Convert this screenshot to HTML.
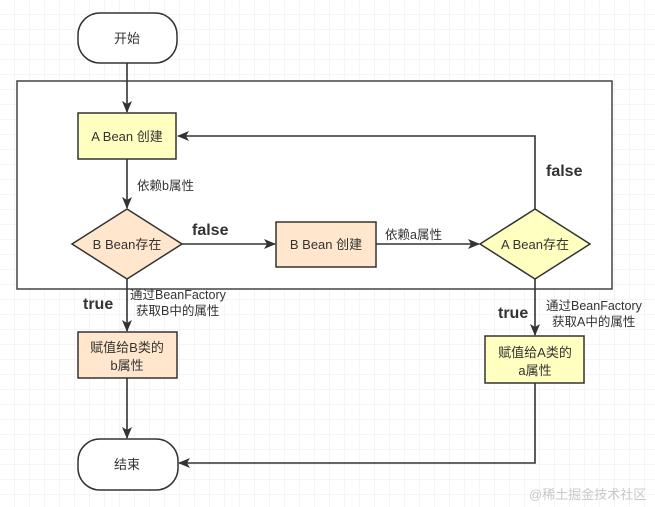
<!DOCTYPE html>
<html><head><meta charset="utf-8"><style>
html,body{margin:0;padding:0;background:#fff}
svg{display:block}
text{font-family:"Liberation Sans","Noto Sans CJK SC",sans-serif;fill:#333}
</style></head><body>
<svg width="655" height="507" viewBox="0 0 655 507" xmlns="http://www.w3.org/2000/svg">
<defs>
<pattern id="g" width="15" height="15" patternUnits="userSpaceOnUse">
<path d="M15 0V15M0 15H15" stroke="#ebebeb" stroke-width="1" fill="none"/>
</pattern>
<marker id="a" markerWidth="12" markerHeight="12" refX="11" refY="6" orient="auto" markerUnits="userSpaceOnUse">
<path d="M0,1 L12,6 L0,11 L3,6 Z" fill="#333"/>
</marker>
</defs>
<rect width="655" height="507" fill="url(#g)"/>
<rect x="17" y="81" width="595" height="208" fill="#fff" stroke="#444" stroke-width="1.5"/>
<g stroke="#333" stroke-width="1.6" fill="none">
<line x1="127" y1="63" x2="127" y2="112" marker-end="url(#a)"/>
<line x1="127" y1="159" x2="127" y2="208" marker-end="url(#a)"/>
<line x1="182" y1="244" x2="275" y2="244" marker-end="url(#a)"/>
<line x1="376" y1="244" x2="479" y2="244" marker-end="url(#a)"/>
<polyline points="535,209 535,136 178,136" marker-end="url(#a)"/>
<line x1="127" y1="279" x2="127" y2="331" marker-end="url(#a)"/>
<line x1="535" y1="279" x2="535" y2="335" marker-end="url(#a)"/>
<line x1="127" y1="378" x2="127" y2="438" marker-end="url(#a)"/>
<polyline points="535,383 535,463 179,463" marker-end="url(#a)"/>
</g>
<g stroke="#333" stroke-width="1.5">
<rect x="78" y="13" width="99" height="50" rx="22" fill="#fff"/>
<rect x="78" y="113" width="98" height="46" fill="#ffffc0"/>
<polygon points="127,209 182,244 127,279 72,244" fill="#ffe6cc"/>
<rect x="276" y="222" width="100" height="45" fill="#ffe6cc"/>
<polygon points="535,209 590,244 535,279 480,244" fill="#ffffc0"/>
<rect x="78" y="332" width="99" height="46" fill="#ffe6cc"/>
<rect x="485" y="336" width="99" height="47" fill="#ffffc0"/>
<rect x="78" y="439" width="100" height="51" rx="22" fill="#fff"/>
</g>
<g font-size="13" text-anchor="middle">
<text x="127" y="43">开始</text>
<text x="127" y="141">A Bean 创建</text>
<text x="127" y="249">B Bean存在</text>
<text x="326" y="249">B Bean 创建</text>
<text x="535" y="249">A Bean存在</text>
<text x="127" y="352">赋值给B类的</text>
<text x="127" y="370">b属性</text>
<text x="535" y="357">赋值给A类的</text>
<text x="535" y="375">a属性</text>
<text x="127" y="469">结束</text>
</g>
<g font-size="12.5">
<text x="137" y="190">依赖b属性</text>
<text x="385" y="239">依赖a属性</text>
<text x="130" y="299">通过BeanFactory</text>
<text x="136" y="315">获取B中的属性</text>
<text x="546" y="310">通过BeanFactory</text>
<text x="552" y="326">获取A中的属性</text>
</g>
<g font-size="16" font-weight="bold">
<text x="192" y="235">false</text>
<text x="546" y="176">false</text>
<text x="83" y="309">true</text>
<text x="498" y="318">true</text>
</g>
<text x="529" y="499" font-size="13" style="fill:#c8c8c8">@稀土掘金技术社区</text>
</svg>
</body></html>
